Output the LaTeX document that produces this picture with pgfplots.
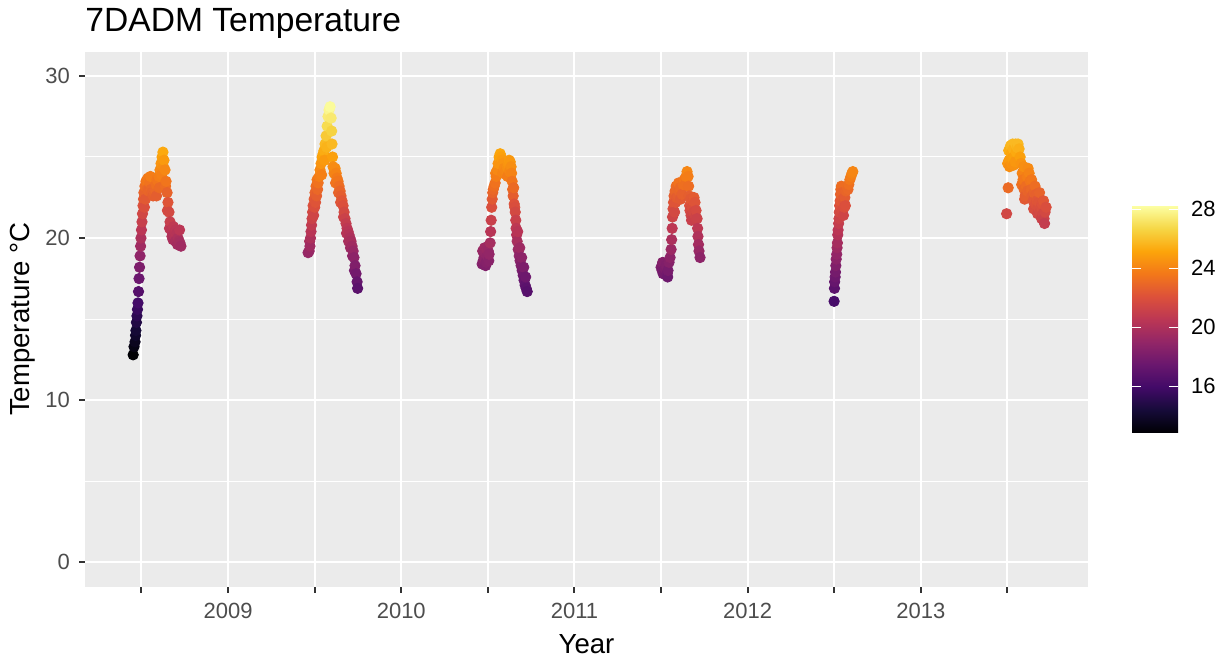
\documentclass[border=0pt]{standalone}
\usepackage{fontspec}
\setmainfont{Liberation Sans}
\usepackage{pgfplots}
\pgfplotsset{compat=1.18}
\pgfplotsset{/pgf/number format/assume math mode=true}

\definecolor{panel}{HTML}{EBEBEB}
\definecolor{ticklab}{HTML}{4D4D4D}
\definecolor{tickcol}{HTML}{333333}

\pgfplotsset{
  colormap={inferno}{rgb255=(0,0,4) rgb255=(22,11,57) rgb255=(66,10,104)
    rgb255=(106,23,110) rgb255=(147,38,103) rgb255=(188,55,84)
    rgb255=(221,81,58) rgb255=(243,120,25) rgb255=(252,165,10)
    rgb255=(246,215,70) rgb255=(252,255,164)},
  pts/.style={scatter, only marks, mark=*, mark size=2.6pt, point meta=y,
    scatter/use mapped color={draw=mapped color, fill=mapped color}},
}

\begin{document}
\begin{tikzpicture}
\path[use as bounding box] (0,0) rectangle (614.5pt,331pt);
\begin{axis}[
  at={(42.5pt,37.65pt)}, anchor=south west,
  scale only axis, width=501.5pt, height=267.55pt,
  xmin=2008.174, xmax=2013.965, ymin=-1.5, ymax=31.5,
  axis background/.style={fill=panel},
  axis line style={draw=none},
  xtick={2008.5,2009,2009.5,2010,2010.5,2011,2011.5,2012,2012.5,2013,2013.5},
  xticklabels={,2009,,2010,,2011,,2012,,2013,},
  ytick={0,10,20,30}, minor ytick={5,15,25},
  grid=both,
  major grid style={white, line width=1pt},
  minor grid style={white, line width=0.5pt},
  xtick pos=bottom, ytick pos=left,
  tick align=outside,
  major tick length=3pt, minor tick length=0pt,
  tick style={tickcol, line width=1pt},
  tick label style={font=\fontsize{11}{13}\selectfont, text=ticklab},
  xticklabel style={yshift=-1.6pt},
  yticklabel style={xshift=-1pt},
  title={7DADM Temperature},
  title style={at={(axis description cs:0,1)}, anchor=base west, inner sep=0pt,
    yshift=3.95pt, font=\fontsize{16.8}{19}\selectfont},
  xlabel={Year},
  xlabel style={at={(axis description cs:0.5,0)}, anchor=base, inner sep=0pt,
    yshift=-33.15pt, font=\fontsize{13.8}{16}\selectfont},
  ylabel={Temperature °C},
  ylabel style={at={(axis description cs:-0.0618,0.5)}, anchor=center,
    font=\fontsize{13.8}{16}\selectfont},
  colormap name=inferno,
  point meta min=12.85, point meta max=28.25,
  colorbar,
  colorbar/width=23pt,
  colorbar shift/.style={xshift=22pt},
  colorbar style={
    at={(parent axis.east)}, anchor=west,
    scale only axis, height=113.5pt,
    ytick={16,20,24,28},
    ytick pos=both, yticklabel pos=right,
    tick align=inside, major tick length=4.6pt,
    tick style={white, line width=0.5pt},
    axis line style={draw=none},
    yticklabel style={font=\fontsize{11}{13}\selectfont, text=black, xshift=3pt},
  },
]
% 2008
\addplot[pts] table {
x y
2008.452 12.8
2008.457 13.3
2008.463 13.6
2008.466 14.0
2008.468 14.3
2008.471 14.8
2008.474 15.2
2008.477 15.6
2008.480 16.0
2008.483 16.7
2008.486 17.5
2008.489 18.2
2008.492 18.9
2008.495 19.5
2008.497 20.0
2008.500 20.5
2008.503 21.0
2008.506 21.5
2008.509 22.0
2008.512 22.4
2008.514 22.8
2008.517 21.9
2008.520 23.2
2008.523 22.4
2008.526 23.5
2008.532 23.6
2008.535 23.0
2008.538 23.7
2008.541 22.9
2008.544 23.6
2008.549 23.4
2008.552 23.8
2008.555 23.0
2008.561 22.8
2008.567 22.6
2008.573 22.8
2008.578 23.0
2008.584 23.3
2008.587 22.6
2008.590 23.6
2008.596 23.5
2008.601 23.8
2008.604 23.1
2008.607 24.2
2008.613 24.6
2008.616 23.9
2008.619 25.0
2008.624 25.3
2008.627 24.4
2008.630 24.8
2008.636 24.2
2008.639 23.2
2008.642 23.5
2008.648 22.8
2008.650 21.7
2008.653 22.2
2008.659 21.6
2008.662 20.6
2008.665 21.0
2008.671 20.5
2008.676 20.1
2008.682 19.9
2008.685 20.7
2008.688 20.2
2008.694 20.4
2008.697 19.8
2008.699 20.5
2008.705 20.3
2008.708 19.6
2008.711 20.0
2008.717 19.8
2008.720 20.5
2008.722 19.7
2008.728 19.5
};
% 2009
\addplot[pts] table {
x y
2009.462 19.1
2009.468 19.2
2009.471 19.8
2009.473 19.5
2009.476 20.0
2009.479 20.4
2009.482 20.8
2009.485 21.2
2009.488 21.6
2009.491 22.0
2009.494 21.4
2009.497 22.4
2009.500 21.9
2009.502 22.8
2009.505 22.2
2009.508 23.2
2009.511 22.6
2009.514 23.6
2009.517 23.0
2009.520 23.4
2009.526 23.8
2009.531 24.2
2009.537 24.6
2009.540 23.9
2009.543 25.0
2009.549 25.2
2009.554 25.4
2009.557 24.8
2009.560 25.8
2009.566 26.3
2009.569 25.6
2009.572 26.9
2009.577 27.5
2009.583 27.9
2009.589 28.1
2009.595 27.4
2009.598 26.6
2009.600 25.8
2009.603 25.0
2009.606 24.4
2009.612 24.0
2009.618 24.3
2009.621 23.4
2009.624 24.0
2009.629 23.7
2009.635 23.5
2009.638 22.8
2009.641 23.2
2009.647 22.9
2009.650 22.2
2009.652 22.6
2009.658 22.3
2009.664 22.0
2009.667 21.3
2009.670 21.6
2009.675 21.2
2009.681 20.9
2009.684 20.3
2009.687 20.6
2009.693 20.4
2009.696 19.8
2009.698 20.2
2009.704 20.0
2009.707 19.4
2009.710 19.8
2009.716 19.5
2009.719 18.9
2009.722 19.2
2009.727 18.8
2009.730 18.0
2009.733 18.3
2009.739 17.8
2009.745 17.3
2009.748 16.9
};
% 2010
\addplot[pts] table {
x y
2010.467 18.4
2010.470 19.2
2010.473 18.6
2010.478 18.8
2010.481 19.4
2010.484 19.1
2010.487 18.3
2010.490 18.5
2010.493 19.3
2010.496 18.9
2010.502 19.2
2010.505 18.6
2010.507 19.0
2010.513 19.7
2010.516 20.4
2010.519 21.1
2010.522 21.9
2010.525 22.4
2010.528 22.8
2010.531 23.0
2010.536 23.2
2010.542 23.4
2010.545 24.0
2010.548 23.8
2010.554 24.2
2010.559 24.6
2010.565 25.0
2010.571 25.2
2010.574 24.6
2010.577 25.0
2010.583 24.8
2010.586 24.0
2010.588 24.6
2010.594 24.3
2010.600 24.1
2010.606 24.2
2010.611 24.4
2010.614 23.8
2010.617 24.6
2010.623 24.8
2010.626 24.1
2010.629 24.7
2010.634 24.4
2010.637 24.0
2010.640 23.5
2010.643 23.0
2010.646 22.6
2010.649 23.1
2010.652 22.1
2010.655 21.9
2010.658 21.6
2010.661 21.1
2010.663 20.6
2010.666 20.2
2010.669 19.8
2010.672 20.4
2010.675 19.3
2010.681 18.9
2010.684 19.4
2010.686 18.6
2010.692 18.3
2010.695 18.8
2010.698 18.0
2010.704 17.7
2010.707 18.2
2010.709 17.4
2010.715 17.1
2010.718 17.6
2010.721 16.9
2010.727 16.7
};
% 2011
\addplot[pts] table {
x y
2011.500 18.2
2011.506 18.0
2011.509 18.5
2011.512 17.8
2011.517 17.9
2011.520 18.4
2011.523 18.1
2011.529 18.3
2011.535 17.8
2011.538 17.6
2011.540 18.0
2011.546 18.5
2011.552 18.8
2011.558 19.3
2011.561 19.9
2011.564 20.6
2011.566 21.3
2011.569 21.8
2011.572 22.2
2011.575 22.6
2011.578 21.6
2011.581 22.9
2011.584 22.2
2011.587 23.2
2011.590 22.5
2011.592 23.0
2011.598 22.6
2011.601 23.4
2011.604 22.9
2011.610 23.1
2011.613 22.4
2011.616 23.0
2011.621 22.7
2011.627 23.3
2011.633 23.6
2011.639 23.3
2011.644 23.8
2011.650 24.1
2011.656 23.8
2011.659 23.2
2011.662 22.6
2011.665 22.0
2011.667 21.7
2011.670 22.4
2011.673 21.4
2011.676 21.1
2011.679 21.9
2011.685 22.3
2011.688 21.6
2011.690 22.5
2011.696 22.2
2011.699 21.3
2011.702 21.7
2011.708 21.2
2011.711 20.6
2011.713 20.1
2011.716 19.6
2011.719 19.2
2011.725 18.8
};
% 2012
\addplot[pts] table {
x y
2012.499 16.1
2012.501 16.9
2012.502 17.3
2012.505 17.6
2012.507 17.9
2012.509 18.3
2012.511 18.7
2012.514 19.0
2012.516 19.4
2012.518 19.7
2012.520 20.2
2012.522 20.5
2012.525 20.9
2012.527 21.2
2012.529 21.6
2012.531 22.0
2012.534 22.3
2012.536 22.7
2012.538 23.0
2012.541 23.2
2012.544 22.8
2012.547 21.7
2012.550 22.4
2012.553 21.4
2012.556 22.2
2012.558 21.9
2012.561 22.5
2012.564 22.0
2012.567 22.9
2012.573 23.2
2012.579 23.0
2012.584 23.3
2012.590 23.6
2012.596 23.8
2012.602 24.0
2012.607 24.1
};
% 2013
\addplot[pts] table {
x y
2013.495 21.5
2013.501 24.6
2013.504 23.1
2013.507 25.4
2013.509 24.8
2013.512 24.4
2013.515 25.4
2013.518 25.7
2013.521 25.2
2013.524 24.6
2013.527 24.9
2013.530 25.8
2013.533 25.5
2013.536 24.5
2013.538 25.0
2013.544 24.7
2013.547 25.8
2013.550 25.3
2013.556 25.6
2013.561 25.8
2013.567 25.5
2013.573 25.0
2013.579 24.6
2013.582 23.3
2013.585 24.0
2013.590 23.6
2013.593 24.4
2013.596 23.0
2013.599 22.4
2013.602 22.6
2013.608 23.2
2013.613 23.8
2013.616 22.9
2013.619 24.3
2013.625 24.0
2013.628 22.8
2013.631 23.5
2013.636 23.0
2013.639 23.6
2013.642 22.6
2013.648 22.3
2013.651 21.8
2013.654 22.8
2013.659 23.2
2013.662 22.1
2013.665 22.7
2013.671 22.3
2013.674 21.5
2013.677 21.9
2013.682 22.2
2013.685 22.8
2013.688 21.6
2013.694 21.9
2013.697 21.2
2013.700 22.1
2013.705 21.5
2013.708 22.3
2013.711 21.2
2013.714 20.9
2013.717 21.6
2013.723 21.9
};
\end{axis}
\end{tikzpicture}
\end{document}
